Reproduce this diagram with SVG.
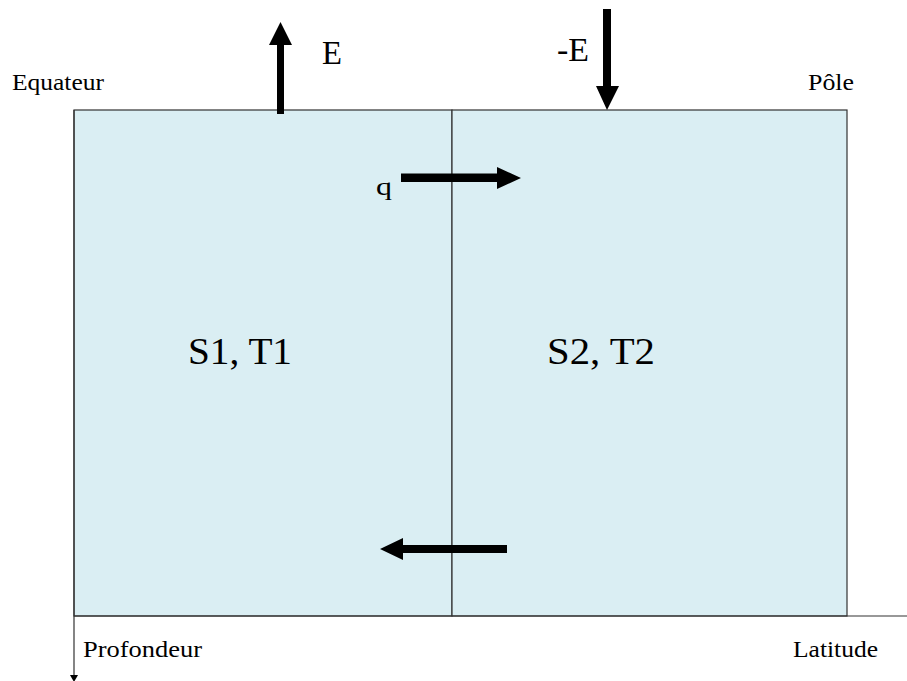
<svg xmlns="http://www.w3.org/2000/svg" width="907" height="681" viewBox="0 0 907 681">
<style>
text{fill:#000;font-family:"Liberation Serif","DejaVu Serif","Noto Serif",serif}
.lbl{font-size:23px}
.big{font-size:37px}
.mid{font-size:33px}
.ln{stroke:#333;stroke-width:1.2;fill:none}
.arr{fill:#000}
</style>
<rect width="907" height="681" fill="#fff"/>
<g id="box-s1">
<rect x="74" y="110" width="378" height="506" fill="#DAEEF3" stroke="#333" stroke-width="1.2"/>
<text class="big" x="188" y="364" textLength="104" lengthAdjust="spacingAndGlyphs">S1, T1</text>
</g>
<g id="box-s2">
<rect x="452" y="110" width="395" height="506" fill="#DAEEF3" stroke="#333" stroke-width="1.2"/>
<text class="big" x="547" y="364" textLength="108" lengthAdjust="spacingAndGlyphs">S2, T2</text>
</g>
<g id="axes">
<line class="ln" x1="74" y1="616" x2="907" y2="616"/>
<line class="ln" x1="74" y1="110" x2="74" y2="676"/>
<polygon class="arr" points="70,675 78,675 74,682"/>
<text class="lbl" x="83" y="657" textLength="119" lengthAdjust="spacingAndGlyphs">Profondeur</text>
<text class="lbl" x="793" y="657" textLength="85" lengthAdjust="spacingAndGlyphs">Latitude</text>
<text class="lbl" x="12" y="90" textLength="92" lengthAdjust="spacingAndGlyphs">Equateur</text>
<text class="lbl" x="808" y="90" textLength="46" lengthAdjust="spacingAndGlyphs">Pôle</text>
</g>
<g id="connectors">
<polygon class="arr" points="277,114 284,114 284,45 292,45 280.5,22 269,45 277,45"/>
<text class="mid" x="322" y="64" textLength="20" lengthAdjust="spacingAndGlyphs">E</text>
<polygon class="arr" points="603,9 611,9 611,86 619,86 607,110 596,86 603,86"/>
<text class="mid" x="557" y="61" textLength="32" lengthAdjust="spacingAndGlyphs">-E</text>
<polygon class="arr" points="401,173.5 497,173.5 497,167 521,178 497,189 497,182 401,182"/>
<text x="376" y="195" font-size="26" textLength="16" lengthAdjust="spacingAndGlyphs">q</text>
<polygon class="arr" points="507,545 403,545 403,538 380,549 403,560 403,553 507,553"/>
</g>
</svg>
